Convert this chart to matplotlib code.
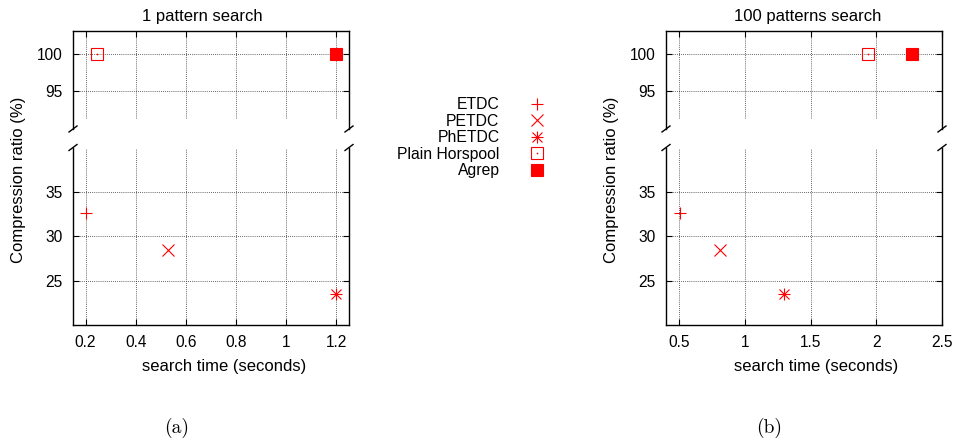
import matplotlib
matplotlib.use("Agg")
import matplotlib.pyplot as plt
from matplotlib.legend_handler import HandlerTuple

plt.rcParams['font.family'] = ['Liberation Sans', 'DejaVu Sans']
plt.rcParams['font.size'] = 12

# ---- data ----
methods = ['ETDC', 'PETDC', 'PhETDC', 'Plain Horspool', 'Agrep']
time_1pattern = [0.20, 0.53, 1.20, 0.245, 1.20]
time_100patterns = [0.51, 0.81, 1.30, 1.94, 2.27]
compression_ratio = [32.6, 28.5, 23.5, 100.0, 100.0]

xticks_1 = [0.2, 0.4, 0.6, 0.8, 1.0, 1.2]
xticklabels_1 = ['0.2', '0.4', '0.6', '0.8', '1', '1.2']
xticks_100 = [0.5, 1.0, 1.5, 2.0, 2.5]
xticklabels_100 = ['0.5', '1', '1.5', '2', '2.5']
yticks_upper = [95, 100]
yticks_lower = [25, 30, 35]

W, H = 955, 446
fig = plt.figure(figsize=(W / 100, H / 100), dpi=100)

FS = 12
TFS = 11.2
RED = '#ff0000'
marker_specs = {
    'ETDC': [dict(marker='+', markersize=8, mew=0.8)],
    'PETDC': [dict(marker='x', markersize=8.5, mew=0.8)],
    'PhETDC': [dict(marker='+', markersize=9, mew=0.8), dict(marker='x', markersize=7, mew=0.8)],
    'Plain Horspool': [dict(marker='s', markersize=8.5, mew=0.8, mfc='none'), dict(marker='.', markersize=1.5, mew=0.5)],
    'Agrep': [dict(marker='s', markersize=8.5, mew=0.8, mfc=RED)],
}

grid_kw = dict(color='#333333', linestyle=(0, (1, 1.5)), linewidth=0.6)


def px_rect(x0, y0, x1, y1):
    return [x0 / W, 1 - y1 / H, (x1 - x0) / W, (y1 - y0) / H]


def style_axis(ax, xlim, ylim, xticks, yticks, upper):
    ax.set_xlim(*xlim)
    ax.set_ylim(*ylim)
    ax.set_xticks(xticks)
    ax.set_yticks(yticks)
    ax.set_yticklabels([str(v) for v in yticks])
    for s in ax.spines.values():
        s.set_linewidth(1.0)
    ax.tick_params(direction='in', length=4, width=0.8, labelsize=TFS)
    if upper:
        ax.spines['bottom'].set_visible(False)
        ax.tick_params(axis='x', bottom=False, top=True, labelbottom=False)
        ax.tick_params(axis='y', left=True, right=True, pad=7.5)
        for t in xticks:
            ax.axvline(t, ymin=0.11, ymax=1, zorder=0, **grid_kw)
        for t in yticks:
            ax.axhline(t, zorder=0, **grid_kw)
    else:
        ax.spines['top'].set_visible(False)
        ax.tick_params(axis='x', bottom=True, top=False, pad=7.5)
        ax.tick_params(axis='y', left=True, right=True, pad=7.5)
        ax.grid(True, **grid_kw)
        ax.set_axisbelow(True)


def add_breaks(ax, upper):
    trans = ax.transAxes
    bbox = ax.get_position()
    dx = 4 / (bbox.width * W)
    dy = 3 / (bbox.height * H)
    yb = 0 if upper else 1
    for xb in (0, 1):
        ax.plot([xb - dx, xb + dx], [yb - dy, yb + dy], transform=trans,
                color='black', lw=1.0, clip_on=False)


def plot_series(ax, times):
    handles = []
    for m, t, r in zip(methods, times, compression_ratio):
        hs = []
        for spec in marker_specs[m]:
            h, = ax.plot([t], [r], linestyle='none', color=RED, **spec)
            hs.append(h)
        handles.append(tuple(hs) if len(hs) > 1 else hs[0])
    return handles


panels = [
    (73, 349, time_1pattern, (0.15, 1.25), xticks_1, xticklabels_1),
    (666, 942, time_100patterns, (0.4, 2.5), xticks_100, xticklabels_100),
]

legend_handles = None
for x0, x1, times, xlim, xt, xtl in panels:
    ax_up = fig.add_axes(px_rect(x0, 31, x1, 129))
    ax_lo = fig.add_axes(px_rect(x0, 147.5, x1, 325))
    style_axis(ax_up, xlim, (90, 103), xt, yticks_upper, True)
    style_axis(ax_lo, xlim, (20, 40), xt, yticks_lower, False)
    ax_lo.set_xticklabels(xtl)
    h = plot_series(ax_up, times)
    plot_series(ax_lo, times)
    add_breaks(ax_up, True)
    add_breaks(ax_lo, False)
    if legend_handles is None:
        legend_handles = h

# titles / labels
fig.text(202.5 / W, 1 - 16.8 / H, '1 pattern search', ha='center', va='center', fontsize=FS)
fig.text(808 / W, 1 - 16.8 / H, '100 patterns search', ha='center', va='center', fontsize=FS)
fig.text(223.7 / W, 1 - 366.7 / H, 'search time (seconds)', ha='center', va='center', fontsize=FS)
fig.text(816 / W, 1 - 366.7 / H, 'search time (seconds)', ha='center', va='center', fontsize=FS)
fig.text(18 / W, 1 - 180 / H, 'Compression ratio (%)', ha='center', va='center', rotation=90, fontsize=FS)
fig.text(611.5 / W, 1 - 180 / H, 'Compression ratio (%)', ha='center', va='center', rotation=90, fontsize=FS)
fig.text(176.5 / W, 1 - 428 / H, '(a)', ha='center', va='center', fontsize=14, family=['cmr10', 'DejaVu Serif'])
fig.text(769 / W, 1 - 428 / H, '(b)', ha='center', va='center', fontsize=14, family=['cmr10', 'DejaVu Serif'])

fig.legend(legend_handles, methods, loc='upper right',
           bbox_to_anchor=(545 / W, 1 - 97 / H), frameon=False, markerfirst=False,
           handler_map={tuple: HandlerTuple(ndivide=1)}, numpoints=1,
           handlelength=1.0, handletextpad=1.9, labelspacing=0.1,
           borderpad=0, borderaxespad=0, fontsize=11.3)

fig.savefig('out.png', dpi=100)
